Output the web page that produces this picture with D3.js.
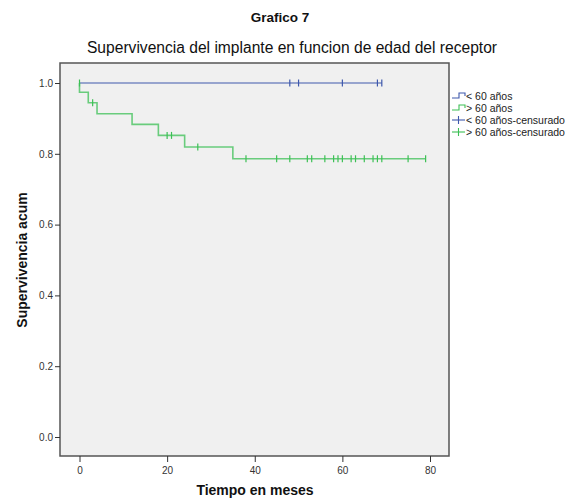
<!DOCTYPE html>
<html><head><meta charset="utf-8">
<script src="https://cdn.jsdelivr.net/npm/d3@7"></script>
<style>body{margin:0;background:#fff}svg{display:block}text{font-family:"Liberation Sans",Arial,sans-serif}</style>
</head><body>
<svg id="c" width="579" height="502"></svg>
<script>
// Data
const mainTitle = "Grafico 7";
const chartTitle = "Supervivencia del implante en funcion de edad del receptor";
const xLabel = "Tiempo en meses";
const yLabel = "Supervivencia acum";
const xTicks = [0, 20, 40, 60, 80];
const yTicks = [0.0, 0.2, 0.4, 0.6, 0.8, 1.0];
const legendLabels = ["< 60 años", "> 60 años", "< 60 años-censurado", "> 60 años-censurado"];
// step functions: time, survival
const youngTimes = [0, 69];
const youngSurv = [1.0, 1.0];
const youngCensor = [48, 50, 60, 68, 69];
const oldTimes = [0, 2, 4, 12, 18, 24, 35, 79];
const oldSurv = [0.974, 0.944, 0.913, 0.883, 0.852, 0.819, 0.786, 0.786];
const oldCensor = [0, 3, 20, 21, 27, 38, 45, 48, 52, 53, 56, 58, 59, 60, 62, 63, 65, 67, 68, 69, 75, 79];

const blue = "#3e58ac", green = "#3cc055";
const svg = d3.select("#c");
const L = 60, R = 449, T = 63, B = 456;
const x = d3.scaleLinear().domain([0, 80]).range([79.5, 430]);
const y = d3.scaleLinear().domain([0, 1]).range([437, 83]);

svg.append("rect").attr("x", L).attr("y", T).attr("width", R - L).attr("height", B - T)
  .attr("fill", "#f0f0f0").attr("stroke", "#555").attr("stroke-width", 1.5);

svg.append("text").attr("x", 280).attr("y", 22).attr("text-anchor", "middle")
  .attr("font-size", 13.5).attr("font-weight", "bold").attr("fill", "#111").text(mainTitle);
svg.append("text").attr("x", 292).attr("y", 53).attr("text-anchor", "middle")
  .attr("font-size", 15.6).attr("fill", "#111").text(chartTitle);

// axes
const ya = svg.append("g").attr("transform", `translate(${L},0)`)
  .call(d3.axisLeft(y).tickValues(yTicks).tickFormat(d3.format(".1f")).tickSize(5).tickPadding(2));
ya.select(".domain").remove();
const xa = svg.append("g").attr("transform", `translate(0,${B})`)
  .call(d3.axisBottom(x).tickValues(xTicks).tickSize(6).tickPadding(5));
xa.select(".domain").remove();
[ya, xa].forEach(a => {
  a.selectAll("line").attr("stroke", "#333");
  a.selectAll("text").attr("font-size", 10).attr("fill", "#333").attr("font-family", '"Liberation Sans",Arial,sans-serif');
});

svg.append("text").attr("x", 255).attr("y", 495).attr("text-anchor", "middle")
  .attr("font-size", 14).attr("font-weight", "bold").attr("fill", "#111").text(xLabel);
svg.append("text").attr("transform", "translate(27,260) rotate(-90)").attr("text-anchor", "middle")
  .attr("font-size", 14).attr("font-weight", "bold").attr("fill", "#111").text(yLabel);

function stepPath(times, surv) {
  const pts = [[times[0], 1]];
  for (let i = 0; i < times.length; i++) {
    pts.push([times[i], surv[i]]);
    if (i + 1 < times.length) pts.push([times[i + 1], surv[i]]);
  }
  return d3.line().x(d => x(d[0])).y(d => y(d[1]))(pts);
}
function survAt(times, surv, t) {
  let s = 1;
  for (let i = 0; i < times.length; i++) if (times[i] < t) s = surv[i];
  return s;
}
svg.append("path").attr("d", stepPath(youngTimes, youngSurv)).attr("fill", "none")
  .attr("stroke", blue).attr("stroke-width", 1.2);
svg.append("path").attr("d", stepPath(oldTimes, oldSurv)).attr("fill", "none")
  .attr("stroke", green).attr("stroke-width", 1.6).attr("stroke-opacity", 0.75);

function censors(list, times, surv, color) {
  svg.append("g").selectAll("line").data(list).join("line")
    .attr("x1", d => x(d)).attr("x2", d => x(d))
    .attr("y1", d => y(d === 0 ? 1 : survAt(times, surv, d)) - 3.5)
    .attr("y2", d => y(d === 0 ? 1 : survAt(times, surv, d)) + 3.5)
    .attr("stroke", color).attr("stroke-width", 1.2);
}
censors(youngCensor, youngTimes, youngSurv, blue);
censors(oldCensor, oldTimes, oldSurv, green);

// legend
const lg = svg.append("g");
const ly0 = 96, ldy = 12;
[blue, green].forEach((c, i) => {
  const yy = ly0 + i * ldy;
  lg.append("path").attr("d", `M452,${yy + 2}H459V${yy - 3}H465V${yy}`)
    .attr("fill", "none").attr("stroke", c).attr("stroke-width", 1.1);
});
[blue, green].forEach((c, i) => {
  const yy = ly0 + (i + 2) * ldy;
  lg.append("line").attr("x1", 452).attr("x2", 465).attr("y1", yy).attr("y2", yy).attr("stroke", c).attr("stroke-width", 1.1);
  lg.append("line").attr("x1", 458.5).attr("x2", 458.5).attr("y1", yy - 4).attr("y2", yy + 4).attr("stroke", c).attr("stroke-width", 1.1);
});
legendLabels.forEach((t, i) => {
  lg.append("text").attr("x", 466).attr("y", ly0 + i * ldy + 3.5).attr("font-size", 10.5).attr("fill", "#222").text(t);
});
</script>
</body></html>
